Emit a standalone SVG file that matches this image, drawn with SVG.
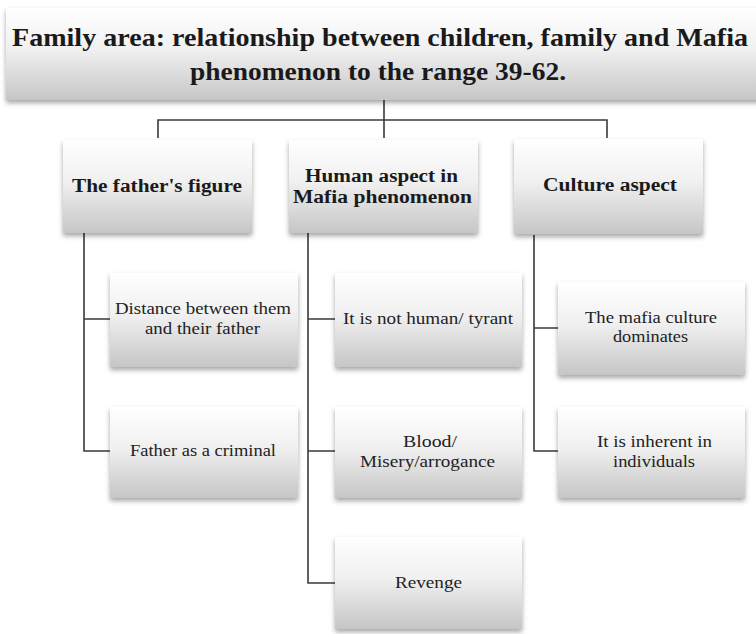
<svg xmlns="http://www.w3.org/2000/svg" width="756" height="634" viewBox="0 0 756 634">
<defs>
<linearGradient id="g" x1="0" y1="0" x2="0" y2="1">
<stop offset="0" stop-color="#ffffff"/>
<stop offset="0.45" stop-color="#f0f0f0"/>
<stop offset="1" stop-color="#c6c6c6"/>
</linearGradient>
<filter id="sh" x="-10%" y="-10%" width="120%" height="130%">
<feDropShadow dx="0" dy="3" stdDeviation="2.5" flood-color="#000" flood-opacity="0.35"/>
</filter>
</defs>
<style>
.box{fill:url(#g);filter:url(#sh);}
.t0{font-weight:bold;font-size:26px;fill:#1a1a1a;}
.t1{font-weight:bold;font-size:18px;fill:#1a1a1a;}
.t2{font-size:16px;fill:#222;}
.c{fill:none;stroke:#3a3a3a;stroke-width:1.6;}
</style>
<rect width="756" height="634" fill="#fff"/>
<g id="connectors">
<path class="c" d="M384 100 V120 M158 138 V120 H607 V138 M384 120 V138"/>
<path class="c" d="M84 233 V451 H110 M84 319 H110"/>
<path class="c" d="M308 233 V583 H335 M308 319 H335 M308 451 H335"/>
<path class="c" d="M534 235 V451 H558 M534 328 H558"/>
</g>
<g id="title">
<rect class="box" x="6" y="8" width="760" height="92"/>
<text class="t0" font-family="'Liberation Serif', serif" x="12" y="46" textLength="736" lengthAdjust="spacingAndGlyphs">Family  area: relationship  between children,  family and Mafia</text>
<text class="t0" font-family="'Liberation Serif', serif" x="190" y="80" textLength="376" lengthAdjust="spacingAndGlyphs">phenomenon  to the range 39-62.</text>
</g>
<g id="father">
<rect class="box" x="63" y="140" width="189" height="93"/>
<text class="t1" font-family="'Liberation Serif', serif" x="72" y="192" textLength="170" lengthAdjust="spacingAndGlyphs">The father's figure</text>
</g>
<g id="human">
<rect class="box" x="289" y="140" width="189" height="93"/>
<text class="t1" font-family="'Liberation Serif', serif" x="305" y="182" textLength="153" lengthAdjust="spacingAndGlyphs">Human aspect in</text>
<text class="t1" font-family="'Liberation Serif', serif" x="293" y="203" textLength="179" lengthAdjust="spacingAndGlyphs">Mafia phenomenon</text>
</g>
<g id="culture">
<rect class="box" x="514" y="139" width="189" height="95"/>
<text class="t1" font-family="'Liberation Serif', serif" x="543" y="191" textLength="134" lengthAdjust="spacingAndGlyphs">Culture aspect</text>
</g>
<g id="distance">
<rect class="box" x="110" y="273" width="188" height="94"/>
<text class="t2" font-family="'Liberation Serif', serif" x="115" y="314" textLength="176" lengthAdjust="spacingAndGlyphs">Distance between them</text>
<text class="t2" font-family="'Liberation Serif', serif" x="145" y="334" textLength="115" lengthAdjust="spacingAndGlyphs">and their father</text>
</g>
<g id="criminal">
<rect class="box" x="110" y="407" width="188" height="91"/>
<text class="t2" font-family="'Liberation Serif', serif" x="130" y="456" textLength="146" lengthAdjust="spacingAndGlyphs">Father as a criminal</text>
</g>
<g id="nothuman">
<rect class="box" x="335" y="273" width="187" height="94"/>
<text class="t2" font-family="'Liberation Serif', serif" x="343" y="324" textLength="170" lengthAdjust="spacingAndGlyphs">It is  not human/ tyrant</text>
</g>
<g id="blood">
<rect class="box" x="335" y="407" width="187" height="91"/>
<text class="t2" font-family="'Liberation Serif', serif" x="403" y="447" textLength="54" lengthAdjust="spacingAndGlyphs">Blood/</text>
<text class="t2" font-family="'Liberation Serif', serif" x="360" y="467" textLength="135" lengthAdjust="spacingAndGlyphs">Misery/arrogance</text>
</g>
<g id="revenge">
<rect class="box" x="335" y="537" width="187" height="92"/>
<text class="t2" font-family="'Liberation Serif', serif" x="395" y="588" textLength="67" lengthAdjust="spacingAndGlyphs">Revenge</text>
</g>
<g id="mafiaculture">
<rect class="box" x="558" y="282" width="187" height="93"/>
<text class="t2" font-family="'Liberation Serif', serif" x="585" y="323" textLength="132" lengthAdjust="spacingAndGlyphs">The mafia  culture</text>
<text class="t2" font-family="'Liberation Serif', serif" x="613" y="342" textLength="75" lengthAdjust="spacingAndGlyphs">dominates</text>
</g>
<g id="inherent">
<rect class="box" x="558" y="407" width="187" height="91"/>
<text class="t2" font-family="'Liberation Serif', serif" x="597" y="447" textLength="115" lengthAdjust="spacingAndGlyphs">It is inherent in</text>
<text class="t2" font-family="'Liberation Serif', serif" x="613" y="467" textLength="82" lengthAdjust="spacingAndGlyphs">individuals</text>
</g>
</svg>
